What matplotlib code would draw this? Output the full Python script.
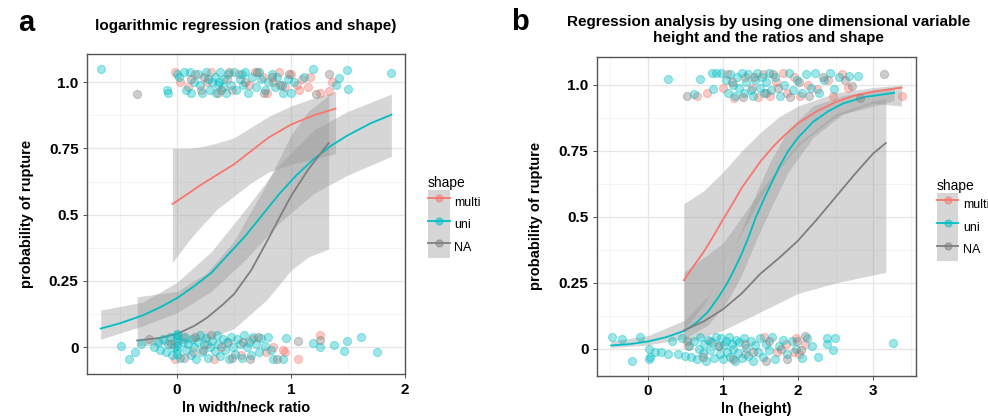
import matplotlib
matplotlib.use("Agg")
import matplotlib.pyplot as plt
from matplotlib.patches import Patch
from matplotlib.lines import Line2D
from matplotlib.legend_handler import HandlerTuple
from matplotlib.ticker import FixedLocator

plt.rcParams["font.family"] = ["Liberation Sans", "DejaVu Sans"]

RED = "#F8766D"
TEAL = "#00BFC4"
GREY = "#7F7F7F"
RIBBON = "#999999"

# ---- panel a: ln width/neck ratio ----
multi_a_x = [-0.04, 0.1, 0.2, 0.35, 0.5, 0.65, 0.8, 1.0, 1.2, 1.39]
multi_a_y = [0.54, 0.58, 0.61, 0.65, 0.69, 0.74, 0.79, 0.84, 0.875, 0.90]
multi_a_bx = [-0.04, 0.1, 0.2, 0.35, 0.5, 0.65, 0.8, 1.0, 1.2, 1.39]
multi_a_lo = [0.32, 0.40, 0.45, 0.52, 0.57, 0.62, 0.66, 0.69, 0.71, 0.73]
multi_a_hi = [0.75, 0.75, 0.755, 0.77, 0.79, 0.83, 0.87, 0.91, 0.94, 0.965]

uni_a_x = [-0.67, -0.5, -0.3, -0.15, 0.0, 0.15, 0.3, 0.45, 0.6, 0.75, 0.9, 1.05, 1.2, 1.35, 1.5, 1.7, 1.88]
uni_a_y = [0.07, 0.09, 0.12, 0.15, 0.185, 0.23, 0.28, 0.35, 0.42, 0.50, 0.58, 0.65, 0.71, 0.76, 0.80, 0.845, 0.877]
uni_a_bx = [-0.67, -0.3, 0.0, 0.3, 0.6, 0.9, 1.2, 1.5, 1.88]
uni_a_lo = [0.03, 0.08, 0.13, 0.21, 0.33, 0.47, 0.58, 0.65, 0.72]
uni_a_hi = [0.14, 0.17, 0.245, 0.36, 0.52, 0.69, 0.82, 0.89, 0.955]

na_a_x = [-0.35, -0.15, 0.0, 0.15, 0.26, 0.4, 0.5, 0.65, 0.79, 0.9, 1.0, 1.15, 1.33]
na_a_y = [0.025, 0.035, 0.05, 0.08, 0.11, 0.16, 0.20, 0.29, 0.40, 0.49, 0.57, 0.67, 0.77]
na_a_bx = [-0.35, 0.0, 0.26, 0.5, 0.79, 1.0, 1.15, 1.33]
na_a_lo = [0.005, 0.01, 0.03, 0.07, 0.18, 0.29, 0.34, 0.37]
na_a_hi = [0.19, 0.21, 0.28, 0.40, 0.62, 0.80, 0.89, 0.95]

pts_a_uni = [(-0.67, 1.05), (-0.09, 0.97), (-0.08, 0.96), (0.0, 1.03), (0.06, 1.04), (0.11, 1.04),
             (0.02, 1.02), (0.08, 0.97), (0.12, 0.96), (0.15, 1.00), (0.18, 1.03), (0.20, 0.99),
             (0.22, 0.96), (0.25, 1.04), (0.27, 1.01), (0.29, 0.97), (0.31, 1.00), (0.33, 1.02),
             (0.34, 0.96), (0.36, 0.99), (0.37, 1.00), (0.38, 1.04), (0.40, 0.98), (0.41, 1.01),
             (0.43, 0.96), (0.45, 1.03), (0.47, 0.99), (0.50, 1.04), (0.52, 0.97), (0.55, 1.01),
             (0.57, 1.03), (0.58, 0.99), (0.60, 1.04), (0.62, 0.96), (0.66, 1.02), (0.69, 0.98),
             (0.72, 1.04), (0.74, 1.01), (0.77, 0.97), (0.80, 1.00), (0.83, 1.03), (0.86, 0.98),
             (0.88, 1.02), (0.92, 0.99), (0.93, 0.96), (0.97, 1.01), (1.00, 0.96), (1.03, 1.00),
             (1.11, 1.02), (1.19, 1.05), (1.39, 0.99), (1.42, 1.015), (1.49, 1.047), (1.50, 0.973),
             (1.88, 1.036),
             (-0.49, 0.006), (-0.42, -0.045), (-0.37, -0.02), (-0.32, 0.01), (-0.20, 0.0),
             (-0.17, 0.02), (-0.15, -0.01), (-0.12, 0.03), (-0.10, -0.02), (-0.08, 0.01),
             (-0.06, 0.04), (-0.04, -0.03), (-0.03, 0.0), (0.0, 0.05), (0.0, 0.035), (0.0, 0.02),
             (0.0, 0.005), (0.0, -0.01), (0.0, -0.025), (0.0, 0.045), (0.03, -0.04), (0.05, 0.02),
             (0.07, 0.04), (0.08, -0.01), (0.10, 0.01), (0.12, -0.03), (0.13, 0.03), (0.15, 0.0),
             (0.17, -0.045), (0.18, 0.02), (0.20, 0.045), (0.22, -0.02), (0.24, 0.01), (0.25, 0.035),
             (0.27, -0.04), (0.29, 0.0), (0.31, 0.025), (0.33, -0.015), (0.35, 0.045), (0.36, 0.01),
             (0.38, -0.035), (0.40, 0.03), (0.42, -0.01), (0.44, 0.02), (0.46, -0.045), (0.47, 0.04),
             (0.49, 0.0), (0.51, -0.025), (0.53, 0.03), (0.55, 0.01), (0.57, -0.04), (0.59, 0.045),
             (0.61, 0.0), (0.63, 0.02), (0.65, -0.03), (0.67, 0.04), (0.69, 0.01), (0.72, -0.02),
             (0.74, 0.035), (0.77, 0.005), (0.80, 0.04), (0.82, -0.01), (0.84, -0.044), (0.93, -0.044),
             (0.96, 0.034), (1.19, 0.015), (1.25, 0.0), (1.38, 0.009), (1.46, -0.013), (1.49, 0.025),
             (1.61, 0.037), (1.75, -0.019)]
pts_a_multi = [(-0.02, 1.04), (0.03, 1.0), (0.10, 0.98), (0.16, 1.03), (0.21, 0.97), (0.26, 1.00),
               (0.30, 1.04), (0.36, 0.96), (0.44, 1.01), (0.48, 0.97), (0.54, 1.03), (0.63, 0.99),
               (0.68, 1.04), (0.75, 1.02), (0.79, 0.96), (0.84, 1.00), (0.89, 1.04), (0.95, 0.98),
               (1.00, 1.03), (1.05, 0.99), (1.07, 0.97), (1.10, 1.01), (1.15, 0.98), (1.17, 1.02),
               (1.25, 0.96), (1.33, 0.967), (1.36, 1.0),
               (-0.02, -0.045), (0.05, 0.04), (0.14, -0.02), (0.26, 0.01), (0.32, -0.045), (0.45, 0.02),
               (0.56, -0.03), (0.66, 0.03), (0.78, -0.02), (0.84, 0.0), (0.93, -0.01), (0.95, -0.02),
               (1.06, -0.044), (1.25, 0.047)]
pts_a_na = [(-0.35, 0.957), (0.12, 1.01), (0.24, 1.02), (0.39, 0.97), (0.46, 1.04), (0.60, 1.00),
            (0.70, 1.04), (0.76, 0.96), (0.83, 1.02), (0.90, 0.99), (0.98, 1.03), (1.22, 0.955),
            (1.33, 1.03),
            (-0.25, 0.03), (-0.05, 0.01), (0.06, -0.04), (0.16, 0.04), (0.23, -0.01), (0.30, 0.045),
            (0.39, 0.0), (0.48, -0.04), (0.58, 0.02), (0.64, -0.045), (0.71, 0.04), (0.88, -0.044),
            (1.06, 0.022), (1.25, 0.028)]

# ---- panel b: ln (height) ----
multi_b_x = [0.48, 0.6, 0.75, 0.9, 1.0, 1.15, 1.25, 1.4, 1.5, 1.65, 1.75, 1.9, 2.0, 2.25, 2.5, 2.75, 3.0, 3.38]
multi_b_y = [0.26, 0.31, 0.37, 0.44, 0.49, 0.56, 0.61, 0.67, 0.71, 0.76, 0.79, 0.83, 0.855, 0.90, 0.935, 0.96, 0.975, 0.99]
multi_b_bx = [0.48, 0.75, 1.0, 1.25, 1.5, 1.75, 2.0, 2.5, 3.0, 3.38]
multi_b_lo = [0.07, 0.17, 0.30, 0.44, 0.57, 0.68, 0.77, 0.88, 0.93, 0.92]
multi_b_hi = [0.55, 0.60, 0.67, 0.75, 0.82, 0.88, 0.92, 0.97, 0.99, 1.0]

uni_b_x = [-0.49, -0.25, 0.0, 0.25, 0.5, 0.65, 0.8, 0.95, 1.06, 1.15, 1.25, 1.35, 1.44, 1.55, 1.65, 1.75,
           1.87, 2.0, 2.2, 2.4, 2.6, 2.9, 3.28]
uni_b_y = [0.013, 0.018, 0.028, 0.045, 0.07, 0.10, 0.14, 0.20, 0.25, 0.30, 0.36, 0.43, 0.50, 0.57, 0.63, 0.69,
           0.75, 0.80, 0.86, 0.90, 0.93, 0.955, 0.97]
uni_b_bx = [-0.49, 0.0, 0.5, 0.8, 1.06, 1.25, 1.44, 1.65, 1.87, 2.2, 2.6, 3.28]
uni_b_lo = [0.005, 0.015, 0.04, 0.09, 0.18, 0.28, 0.41, 0.54, 0.67, 0.80, 0.89, 0.94]
uni_b_hi = [0.03, 0.05, 0.11, 0.20, 0.33, 0.45, 0.59, 0.72, 0.83, 0.92, 0.96, 0.99]

na_b_x = [0.48, 0.75, 1.0, 1.25, 1.5, 1.75, 2.0, 2.25, 2.5, 2.75, 3.0, 3.17]
na_b_y = [0.07, 0.105, 0.15, 0.21, 0.285, 0.345, 0.41, 0.49, 0.575, 0.66, 0.74, 0.78]
na_b_bx = [0.48, 1.0, 1.5, 2.0, 2.5, 3.0, 3.17]
na_b_lo = [0.02, 0.07, 0.14, 0.21, 0.25, 0.28, 0.29]
na_b_hi = [0.29, 0.40, 0.60, 0.78, 0.89, 0.94, 0.95]

pts_b_uni = [(0.27, 1.023), (0.62, 0.965), (0.70, 1.023), (0.85, 1.045), (0.87, 0.985), (0.91, 1.045),
             (0.98, 1.045), (1.04, 1.02), (1.07, 0.97), (1.10, 1.04), (1.13, 1.0), (1.16, 0.96),
             (1.19, 1.03), (1.22, 0.99), (1.25, 1.045), (1.28, 0.97), (1.31, 1.01), (1.34, 1.04),
             (1.37, 0.98), (1.40, 0.96), (1.43, 1.02), (1.46, 1.045), (1.49, 0.99), (1.52, 1.03),
             (1.55, 0.97), (1.58, 1.01), (1.61, 1.045), (1.64, 0.98), (1.70, 1.03), (1.76, 0.96),
             (1.82, 1.0), (1.88, 1.045), (1.93, 0.98), (1.99, 1.02), (2.05, 0.97), (2.11, 1.04),
             (2.17, 0.99), (2.22, 1.045), (2.28, 0.97), (2.35, 1.02), (2.42, 1.045), (2.48, 0.985),
             (2.55, 1.03), (2.68, 1.035), (2.80, 1.035),
             (-0.48, 0.044), (-0.35, 0.037), (-0.21, -0.044), (-0.10, 0.044), (0.02, 0.0),
             (0.02, -0.04), (0.03, -0.03), (0.09, -0.01), (0.18, -0.01), (0.27, -0.02), (0.32, 0.03),
             (0.40, -0.02), (0.45, 0.04), (0.50, -0.025), (0.55, 0.01), (0.58, -0.03), (0.62, 0.03),
             (0.65, -0.04), (0.68, 0.0), (0.70, 0.045), (0.73, -0.015), (0.75, 0.02), (0.78, -0.045),
             (0.80, 0.035), (0.83, -0.005), (0.86, 0.025), (0.88, -0.035), (0.91, 0.045), (0.93, 0.01),
             (0.96, -0.02), (0.98, 0.04), (1.0, -0.04), (1.02, 0.015), (1.04, 0.03), (1.06, -0.01),
             (1.08, 0.045), (1.10, -0.03), (1.12, 0.02), (1.14, 0.0), (1.16, -0.045), (1.18, 0.035),
             (1.20, -0.015), (1.22, 0.025), (1.25, -0.035), (1.28, 0.04), (1.31, 0.005), (1.34, -0.025),
             (1.37, 0.03), (1.40, -0.045), (1.43, 0.015), (1.47, -0.01), (1.50, 0.04), (1.54, -0.03),
             (1.58, 0.02), (1.62, -0.005), (1.66, 0.045), (1.70, -0.04), (1.75, 0.01), (1.80, 0.035),
             (1.86, -0.02), (1.92, 0.03), (1.98, 0.0), (2.05, -0.035), (2.12, 0.04), (2.18, 0.01),
             (2.26, -0.03), (2.38, 0.04), (2.38, 0.02), (2.49, 0.04), (2.46, -0.005), (3.27, 0.022)]
pts_b_multi = [(0.66, 0.96), (0.79, 0.97), (1.00, 0.99), (1.06, 1.04), (1.15, 0.95), (1.30, 1.03),
               (1.39, 0.99), (1.47, 0.955), (1.54, 1.04), (1.63, 0.96), (1.71, 1.01), (1.80, 1.045),
               (1.86, 0.97), (1.95, 1.03), (2.03, 0.96), (2.13, 1.0), (2.25, 0.985), (2.40, 1.02),
               (2.47, 0.96), (2.58, 1.04), (2.66, 0.99), (3.38, 0.957),
               (0.53, 0.01), (0.83, 0.03), (1.30, -0.02), (1.55, 0.045), (1.72, -0.01), (1.84, 0.02),
               (1.95, -0.01), (2.02, -0.02), (2.10, 0.02), (1.98, 0.04)]
pts_b_na = [(0.52, 0.957), (1.12, 1.01), (1.27, 0.955), (1.42, 1.03), (1.57, 0.97), (1.67, 1.04),
            (1.74, 0.99), (1.90, 0.955), (2.01, 1.01), (2.15, 0.96), (2.33, 1.03), (2.63, 1.02),
            (2.72, 0.995), (2.83, 0.95), (3.15, 1.04),
            (0.52, 0.03), (0.74, -0.03), (0.95, 0.01), (1.13, -0.04), (1.29, 0.02), (1.40, -0.01),
            (1.58, -0.045), (1.62, 0.03), (1.78, 0.0), (1.86, -0.04), (1.99, 0.03), (2.04, -0.005),
            (2.10, 0.05)]

y_ticks = [0, 0.25, 0.5, 0.75, 1.0]
y_labels = ["0", "0.25", "0.5", "0.75", "1.0"]


def draw_panel(ax, curves, points, xlim, xticks, xminor):
    ax.set_facecolor("white")
    for x, y, bx, lo, hi, col in curves:
        ax.fill_between(bx, lo, hi, color=RIBBON, alpha=0.4, lw=0, zorder=2)
    for x, y, bx, lo, hi, col in curves:
        ax.plot(x, y, color=col, lw=1.3, zorder=3)
    for pts, col in points:
        ax.scatter([p[0] for p in pts], [p[1] for p in pts], s=34, color=col,
                   alpha=0.38, lw=0.8, zorder=4)
    ax.set_xlim(*xlim)
    ax.set_ylim(-0.102, 1.106)
    ax.set_xticks(xticks)
    ax.set_yticks(y_ticks)
    ax.set_yticklabels(y_labels)
    ax.xaxis.set_minor_locator(FixedLocator(xminor))
    ax.yaxis.set_minor_locator(FixedLocator([0.125, 0.375, 0.625, 0.875]))
    ax.grid(True, which="major", color="#E6E6E6", lw=0.9, zorder=0)
    ax.grid(True, which="minor", color="#F0F0F0", lw=0.5, zorder=0)
    ax.set_axisbelow(True)
    ax.tick_params(which="major", length=3, width=0.6, color="#333333", pad=3,
                   labelsize=11, labelcolor="black")
    ax.tick_params(which="minor", length=0)
    for lab in ax.get_xticklabels() + ax.get_yticklabels():
        lab.set_fontweight("bold")
    for sp in ax.spines.values():
        sp.set_color("#555555")
        sp.set_linewidth(1.0)


def add_legend(ax, x0, y0):
    handles = []
    for col in [RED, TEAL, GREY]:
        handles.append((Patch(facecolor=RIBBON, alpha=0.4, lw=0),
                        Line2D([], [], color=col, lw=1.3),
                        Line2D([], [], ls="none", marker="o", markersize=5,
                               markerfacecolor=col, markeredgecolor=col, alpha=0.5)))
    leg = ax.legend(handles, ["multi", "uni", "NA"], title="shape", loc="upper left",
                    bbox_to_anchor=(x0, y0), bbox_transform=fig.transFigure,
                    frameon=False, fontsize=9, title_fontsize=10, handlelength=1.75,
                    handleheight=2.4, labelspacing=0.0, handletextpad=0.35,
                    borderpad=0, borderaxespad=0, alignment="left",
                    handler_map={tuple: HandlerTuple(ndivide=1, pad=0)})
    return leg


fig = plt.figure(figsize=(9.88, 4.19), dpi=100)
ax1 = fig.add_axes([0.088, 0.107, 0.322, 0.764])
ax2 = fig.add_axes([0.604, 0.103, 0.323, 0.761])

draw_panel(ax1,
           [(multi_a_x, multi_a_y, multi_a_bx, multi_a_lo, multi_a_hi, RED),
            (uni_a_x, uni_a_y, uni_a_bx, uni_a_lo, uni_a_hi, TEAL),
            (na_a_x, na_a_y, na_a_bx, na_a_lo, na_a_hi, GREY)],
           [(pts_a_multi, RED), (pts_a_uni, TEAL), (pts_a_na, GREY)],
           (-0.79, 2.0), [0, 1, 2], [-0.5, 0.5, 1.5])
draw_panel(ax2,
           [(multi_b_x, multi_b_y, multi_b_bx, multi_b_lo, multi_b_hi, RED),
            (uni_b_x, uni_b_y, uni_b_bx, uni_b_lo, uni_b_hi, TEAL),
            (na_b_x, na_b_y, na_b_bx, na_b_lo, na_b_hi, GREY)],
           [(pts_b_multi, RED), (pts_b_uni, TEAL), (pts_b_na, GREY)],
           (-0.68, 3.57), [0, 1, 2, 3], [-0.5, 0.5, 1.5, 2.5, 3.5])

ax1.set_xlabel("ln width/neck ratio", fontsize=10.5, fontweight="bold", labelpad=3)
ax1.set_ylabel("probability of rupture", fontsize=10.5, fontweight="bold", labelpad=11)
ax2.set_xlabel("ln (height)", fontsize=10.5, fontweight="bold", labelpad=3)
ax2.set_ylabel("probability of rupture", fontsize=10.5, fontweight="bold", labelpad=11)

add_legend(ax1, 0.433, 0.579)
add_legend(ax2, 0.948, 0.573)

fig.text(0.249, 0.938, "logarithmic regression (ratios and shape)", ha="center", va="center",
         fontsize=11, fontweight="bold")
fig.text(0.778, 0.929, "Regression analysis by using one dimensional variable\nheight and the ratios and shape",
         ha="center", va="center", fontsize=11, fontweight="bold", linespacing=1.2)
fig.text(0.018, 0.945, "a", ha="left", va="center", fontsize=21, fontweight="bold")
fig.text(0.517, 0.948, "b", ha="left", va="center", fontsize=21, fontweight="bold")

fig.savefig("out.png", dpi=100)
